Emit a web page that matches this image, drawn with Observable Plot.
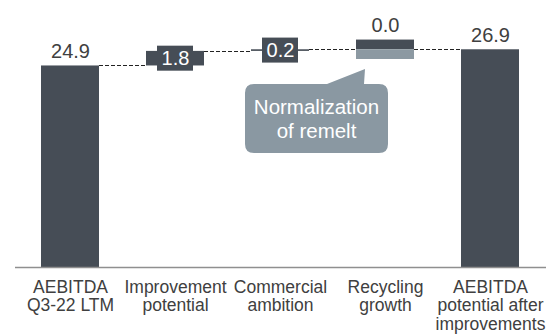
<!DOCTYPE html>
<html><head><meta charset="utf-8">
<script src="https://cdn.jsdelivr.net/npm/d3@7"></script>
<script src="https://cdn.jsdelivr.net/npm/@observablehq/plot@0.6"></script>
<style>html,body{margin:0;padding:0;background:#fff;} #chart svg{display:block}</style>
</head><body><div id="chart"></div>
<script>
// ---- data ----
const categories = ["AEBITDA Q3-22 LTM", "Improvement potential", "Commercial ambition", "Recycling growth", "AEBITDA potential after improvements"];
const tickLabels = ["AEBITDA\nQ3-22 LTM", "Improvement\npotential", "Commercial\nambition", "Recycling\ngrowth", "AEBITDA\npotential after\nimprovements"];
const values = [24.9, 1.8, 0.2, 0.0, 26.9];
const kinds = ["total", "delta", "delta", "split", "total"];
const recyclingGross = 1.2;          // dark part (growth)
const remeltNormalization = -1.2;    // light part (normalization of remelt)
const calloutLines = ["Normalization", "of remelt"];

// ---- styles ----
const DARK = "#464d56", LIGHT = "#8c99a2", TEXT = "#404040", CALLOUT = "#8a98a2";

// ---- build waterfall ----
let running = 0, remeltBottom = 0;
const segments = [], valueLabels = [], boxLabels = [], levels = [];
categories.forEach((c, i) => {
  const v = values[i];
  if (kinds[i] === "total") {
    segments.push({cat: c, y1: 0, y2: v, fill: DARK});
    valueLabels.push({cat: c, y: v, text: v.toFixed(1)});
    running = v;
  } else if (kinds[i] === "split") {
    const top = running + recyclingGross, bottom = running + remeltNormalization;
    segments.push({cat: c, y1: running, y2: top, fill: DARK});
    segments.push({cat: c, y1: bottom, y2: running, fill: LIGHT});
    valueLabels.push({cat: c, y: top, text: v.toFixed(1)});
    remeltBottom = bottom;
    running += v;
  } else {
    segments.push({cat: c, y1: running, y2: running + v, fill: DARK});
    boxLabels.push({cat: c, y: running + v / 2, text: v.toFixed(1)});
    running += v;
  }
  levels.push(running);
});

function connectors(index, {x, y}) {
  const bw = x.bandwidth();
  const g = d3.create("svg:g").attr("stroke", "#222").attr("stroke-width", 1).attr("stroke-dasharray", "4,2").attr("fill", "none");
  for (let i = 0; i < categories.length - 1; i++) {
    const yy = Math.round(y(levels[i])) + 0.5;
    g.append("line").attr("x1", x(categories[i]) + bw).attr("x2", x(categories[i + 1]))
      .attr("y1", yy).attr("y2", yy);
  }
  return g.node();
}

function callout(index, {x, y}) {
  const ax = x("Recycling growth") + 9, ay = y(remeltBottom) + 10;
  const L = ax - 120, R = ax + 23, T = ay + 15, B = ay + 84, r = 9;
  const p = `M${ax-38},${T} L${ax},${ay} L${ax-1},${T} L${R-r},${T} Q${R},${T} ${R},${T+r} L${R},${B-r} Q${R},${B} ${R-r},${B} L${L+r},${B} Q${L},${B} ${L},${B-r} L${L},${T+r} Q${L},${T} ${L+r},${T} Z`;
  const g = d3.create("svg:g");
  g.append("path").attr("d", p).attr("fill", CALLOUT);
  const t = g.append("text").attr("fill", "white").attr("font-size", 20.5).attr("text-anchor", "middle");
  calloutLines.forEach((s, k) => t.append("tspan").attr("x", (L + R) / 2).attr("y", T + 30 + k * 24).text(s));
  return g.node();
}

const chart = Plot.plot({
  width: 548, height: 334,
  marginLeft: 15, marginRight: 2, marginTop: 8, marginBottom: 67,
  x: {domain: categories, paddingInner: 0.443, paddingOuter: 0.227, axis: null},
  y: {domain: [0, 32], axis: null},
  style: {fontFamily: "'Liberation Sans', Arial, sans-serif", overflow: "visible", background: "white"},
  marks: [
    Plot.barY(segments, {x: "cat", y1: "y1", y2: "y2", fill: "fill"}),
    Plot.ruleY([0], {stroke: "#8f8f8f", strokeWidth: 1.5}),
    connectors,
    Plot.barY(boxLabels, {x: "cat", y1: "y", y2: "y", fill: DARK, insetLeft: 11, insetRight: 11, insetTop: -12.5, insetBottom: -12.5}),
    Plot.text(boxLabels, {x: "cat", y: "y", text: "text", fill: "white", fontSize: 20, lineAnchor: "middle"}),
    Plot.text(valueLabels, {x: "cat", y: "y", text: "text", fill: TEXT, fontSize: 20, lineAnchor: "bottom", dy: -8}),
    Plot.text(categories, {x: d => d, text: (d, i) => tickLabels[i], frameAnchor: "bottom", lineAnchor: "top", dy: 12, fontSize: 17.5, lineHeight: 1.06, fill: TEXT}),
    callout
  ]
});
document.getElementById("chart").append(chart);
</script>
</body></html>
